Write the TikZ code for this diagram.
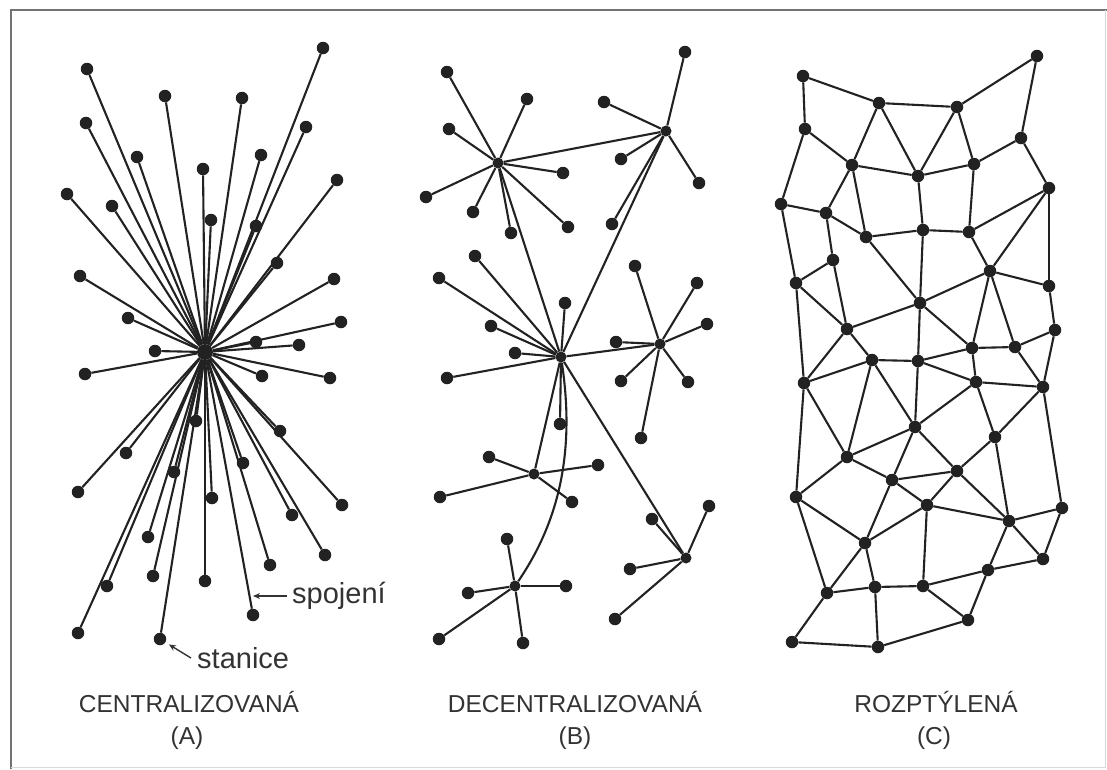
\documentclass[tikz,border=0pt]{standalone}
\usepackage{fontspec}
\setmainfont{Liberation Sans}
\usetikzlibrary{arrows.meta}
\definecolor{ink}{HTML}{222222}
\definecolor{txt}{HTML}{333333}
\begin{document}
\begin{tikzpicture}[x=1pt,y=-1pt,
  dot/.style={circle,fill=ink,draw=none,inner sep=0pt,minimum size=12.5pt},
  hubdot/.style={circle,fill=ink,draw=none,inner sep=0pt,minimum size=11pt},
  link/.style={draw=ink,line width=2.1pt},
  lbl/.style={text=txt,font=\fontsize{24.5}{28}\selectfont,inner sep=0pt,anchor=base},
  ann/.style={text=txt,font=\fontsize{29}{32}\selectfont,inner sep=0pt,anchor=base west},
  pointer/.style={draw=txt,line width=1.4pt,-{Stealth[length=7pt,width=6pt]}}]
\useasboundingbox (0,0) rectangle (1107,769);
% frame
\draw[black!55,line width=1.5pt] (11,769) -- (11,10) -- (1107,10);
\draw[black!15,line width=1pt] (1105,10) -- (1105,767) -- (11,767);

% ---------- (A) centralized ----------
\node[hubdot,minimum size=16pt] (A) at (205,352) {};
\foreach \n/\x/\y in {1/87/69, 2/323/48, 3/165/96, 4/242/98, 5/86/123, 6/306/127,
  7/137/157, 8/261/155, 9/203/169, 10/67/194, 11/112/206, 12/337/180, 13/211/220,
  14/256/226, 15/277/263, 16/80/276, 17/334/279, 18/128/318, 19/341/322, 20/256/342,
  21/299/345, 22/155/351, 23/85/374, 24/262/376, 25/330/378, 26/196/421, 27/280/431,
  28/126/453, 29/243/463, 30/174/472, 31/78/492, 32/212/498, 33/342/505, 34/292/515,
  35/148/537, 36/325/555, 37/270/565, 38/153/576, 39/205/581, 40/107/586, 41/253/615,
  42/78/633, 43/160/639}
  {\node[dot] (a\n) at (\x,\y) {}; \draw[link] (A) -- (a\n);}

\node[ann] (sp) at (292,603) {spojení};
\node[ann] (st) at (197,668) {stanice};
\coordinate (sp0) at (287,596);
\coordinate (spt) at (253,596);
\coordinate (st0) at (191,658);
\draw[pointer] (sp0) -- (spt);
\draw[pointer,shorten >=4pt] (st0) -- (a43);

% ---------- (B) decentralized ----------
\node[hubdot] (B1) at (498,163) {};
\node[hubdot] (B2) at (666,131) {};
\node[hubdot] (B3) at (561,357) {};
\node[hubdot] (B4) at (660,344) {};
\node[hubdot] (B5) at (534,474) {};
\node[hubdot] (B6) at (515,586) {};
\node[hubdot] (B7) at (686,558) {};
\draw[link] (B1) -- (B2);
\draw[link] (B1) -- (B3);
\draw[link] (B2) -- (B3);
\draw[link] (B3) -- (B4);
\draw[link] (B3) -- (B5);
\draw[link] (B3) -- (B7);
\draw[link] (B3) .. controls (575,450) and (560,520) .. (B6);
\foreach \h/\n/\x/\y in {
  B1/b11/447/72, B1/b12/527/99, B1/b13/449/129, B1/b14/563/173, B1/b15/426/197,
  B1/b16/473/212, B1/b17/511/233, B1/b18/568/227,
  B2/b21/685/52, B2/b22/604/102, B2/b23/621/159, B2/b24/699/183, B2/b25/612/224,
  B3/b31/475/256, B3/b32/439/278, B3/b33/565/303, B3/b34/491/326, B3/b35/515/353,
  B3/b36/447/378, B3/b37/560/424,
  B4/b41/635/266, B4/b42/697/283, B4/b43/707/324, B4/b44/616/342, B4/b45/621/381,
  B4/b46/688/382, B4/b47/641/438,
  B5/b51/489/457, B5/b52/598/465, B5/b53/440/497, B5/b54/572/502,
  B6/b61/507/539, B6/b62/566/586, B6/b63/468/593, B6/b64/439/639, B6/b65/523/643,
  B7/b71/652/519, B7/b72/709/506, B7/b73/630/569, B7/b74/615/619}
  {\node[dot] (\n) at (\x,\y) {}; \draw[link] (\h) -- (\n);}

% ---------- (C) distributed ----------
\foreach \n/\x/\y in {c1/803/76, c2/1037/56, c3/879/103, c4/957/107, c5/805/129,
  c6/1021/138, c7/852/165, c8/918/176, c9/974/164, c10/1049/188, c11/781/204,
  c12/826/213, c13/866/237, c14/923/230, c15/969/232, c16/833/260, c17/990/271,
  c18/796/283, c19/1049/286, c20/920/303, c21/847/329, c22/1055/330, c23/972/348,
  c24/1015/347,
  e1/872/360, e2/918/361, e3/804/383, e4/976/382, e5/1043/387, e6/915/427,
  e7/995/437, e8/847/457, e9/892/480, e10/957/471, e11/796/497, e12/927/505,
  e13/1009/521, e14/1062/508, e15/865/543, e16/1043/559, e17/988/570, e18/827/593,
  e19/875/587, e20/923/586, e21/968/620, e22/792/642, e23/878/647}
  {\node[dot] (\n) at (\x,\y) {};}
\foreach \p/\q in {c1/c3, c1/c5, c3/c4, c4/c2, c2/c6, c3/c7, c3/c8, c4/c8, c4/c9,
  c5/c7, c5/c11, c6/c9, c6/c10, c7/c8, c8/c9, c7/c12, c7/c13, c8/c14, c9/c15,
  c11/c12, c11/c18, c12/c16, c12/c13, c13/c14, c14/c15, c13/c20, c14/c20, c15/c10,
  c15/c17, c10/c17, c10/c19, c16/c18, c16/c21, c18/c21, c17/c20, c17/c19, c17/c23,
  c17/c24, c19/c22, c20/c21, c20/c23, c22/c24, c23/c24,
  c21/e3, c21/e1, c18/e3, c20/e2, c23/e2, c23/e4, c24/e5, c22/e5,
  e1/e2, e2/e4, e4/e5, e3/e1, e1/e8, e1/e6, e2/e6, e4/e6, e4/e7, e5/e7, e5/e14,
  e3/e8, e3/e11, e8/e6, e8/e9, e8/e11, e6/e9, e6/e10, e9/e10, e7/e10, e7/e13,
  e9/e12, e10/e12, e10/e13, e12/e13, e13/e14, e13/e16, e14/e16, e13/e17,
  e9/e15, e12/e15, e12/e20, e11/e15, e11/e18, e15/e18, e15/e19, e18/e19, e19/e20,
  e20/e17, e17/e16, e17/e21, e20/e21, e18/e22, e19/e23, e22/e23, e23/e21}
  {\draw[link] (\p) -- (\q);}

% ---------- captions ----------
\node[lbl] (tA) at (189,712) {CENTRALIZOVANÁ};
\node[lbl] (pA) at (187,744) {(A)};
\node[lbl] (tB) at (575,712) {DECENTRALIZOVANÁ};
\node[lbl] (pB) at (575,744) {(B)};
\node[lbl] (tC) at (936,712) {ROZPTÝLENÁ};
\node[lbl] (pC) at (934,744) {(C)};
\end{tikzpicture}
\end{document}
